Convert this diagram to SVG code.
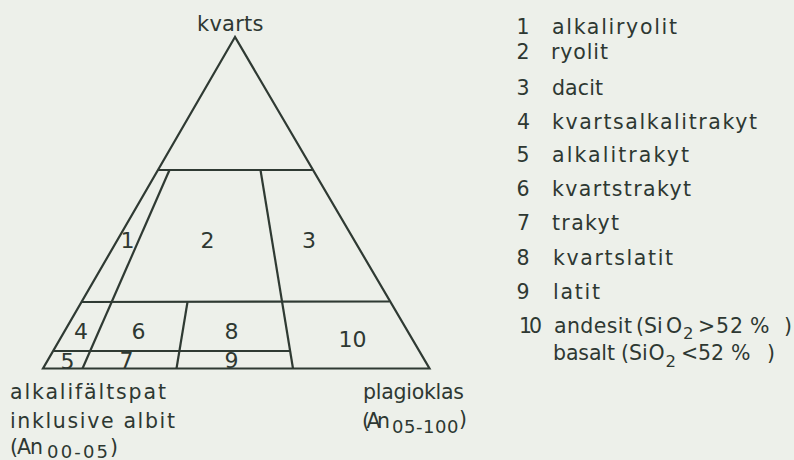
<svg xmlns="http://www.w3.org/2000/svg" width="794" height="460" viewBox="0 0 794 460">
<defs>
<style>
.t { font-family: "DejaVu Sans", "Liberation Sans", sans-serif; font-size: 20.5px; fill: #2e3832; }
.n { font-size: 22px; text-anchor: middle; }
.d { text-anchor: middle; }
.s { font-size: 18px; }
.ss { font-size: 16.5px; }
.ln { fill: none; stroke: #2f3a33; stroke-width: 2.2; stroke-linejoin: miter; stroke-linecap: butt; }
</style>
</defs>
<rect x="0" y="0" width="794" height="460" fill="#edf0ea"/>

<g id="triangle">
  <polygon class="ln" points="235,37 43,368.5 429.5,368.5"/>
</g>
<g id="connectors">
  <line class="ln" x1="158" y1="170" x2="313" y2="170"/>
  <line class="ln" x1="82" y1="302" x2="389.5" y2="301.5"/>
  <line class="ln" x1="54" y1="351" x2="290" y2="351"/>
  <line class="ln" x1="169.5" y1="170" x2="82.5" y2="368.5"/>
  <line class="ln" x1="260.5" y1="170" x2="293" y2="368.5"/>
  <line class="ln" x1="187.5" y1="302" x2="176.5" y2="368.5"/>
</g>

<g id="apex-label">
  <text class="t" x="197" y="31" style="font-size:21px" textLength="66.5" lengthAdjust="spacing">kvarts</text>
</g>

<g id="region-labels">
  <text class="t n" x="127.5" y="248">1</text>
  <text class="t n" x="207.5" y="248">2</text>
  <text class="t n" x="309" y="248">3</text>
  <text class="t n" x="81" y="339">4</text>
  <text class="t n" x="67.5" y="369">5</text>
  <text class="t n" x="138.5" y="339">6</text>
  <text class="t n" x="126.5" y="368">7</text>
  <text class="t n" x="231.5" y="338.5">8</text>
  <text class="t n" x="231.5" y="368">9</text>
  <text class="t n" x="352.5" y="346.5">10</text>
</g>

<g id="corner-left">
  <text class="t" x="10" y="398.5" textLength="156" lengthAdjust="spacing">alkalifältspat</text>
  <text class="t" x="10" y="427.5" textLength="165" lengthAdjust="spacing">inklusive albit</text>
  <text class="t" y="454"><tspan x="10" textLength="33" lengthAdjust="spacing">(An</tspan><tspan class="s" x="47" y="457.5" textLength="61" lengthAdjust="spacing">00-05</tspan><tspan x="110" y="454">)</tspan></text>
</g>

<g id="corner-right">
  <text class="t" x="363" y="398.5" textLength="101" lengthAdjust="spacing">plagioklas</text>
  <text class="t" y="427.5"><tspan x="362" textLength="28" lengthAdjust="spacing">(An</tspan><tspan class="s" x="392" y="432.5" textLength="66.5" lengthAdjust="spacing">05-100</tspan><tspan x="459" y="426">)</tspan></text>
</g>

<g id="legend">
  <text class="t d" x="523" y="34">1</text>
  <text class="t" x="552" y="34" textLength="125" lengthAdjust="spacing">alkaliryolit</text>
  <text class="t d" x="523" y="59">2</text>
  <text class="t" x="551" y="59" textLength="57" lengthAdjust="spacing">ryolit</text>
  <text class="t d" x="523" y="95">3</text>
  <text class="t" x="552" y="95" textLength="51" lengthAdjust="spacing">dacit</text>
  <text class="t d" x="523.5" y="129">4</text>
  <text class="t" x="552" y="129" textLength="205" lengthAdjust="spacing">kvartsalkalitrakyt</text>
  <text class="t d" x="523" y="162">5</text>
  <text class="t" x="552" y="162" textLength="137" lengthAdjust="spacing">alkalitrakyt</text>
  <text class="t d" x="523" y="195.5">6</text>
  <text class="t" x="552" y="195.5" textLength="139" lengthAdjust="spacing">kvartstrakyt</text>
  <text class="t d" x="523.5" y="230">7</text>
  <text class="t" x="552" y="230" textLength="67" lengthAdjust="spacing">trakyt</text>
  <text class="t d" x="523" y="265">8</text>
  <text class="t" x="553" y="265" textLength="120" lengthAdjust="spacing">kvartslatit</text>
  <text class="t d" x="523" y="298.5">9</text>
  <text class="t" x="553" y="298.5" textLength="47" lengthAdjust="spacing">latit</text>
  <text class="t" x="519" y="333" textLength="23" lengthAdjust="spacing">10</text>
  <text class="t" y="333"><tspan x="554" textLength="78" lengthAdjust="spacing">andesit</tspan><tspan x="636">(Si</tspan><tspan x="666">O</tspan><tspan class="ss" x="683" y="338.5">2</tspan><tspan x="698" y="333">&gt;</tspan><tspan x="716 730 750 784">52%)</tspan></text>
  <text class="t" y="359.5"><tspan x="553" textLength="62" lengthAdjust="spacing">basalt</tspan><tspan x="621">(Si</tspan><tspan x="648.5">O</tspan><tspan class="ss" x="665.5" y="366.5">2</tspan><tspan x="681" y="359.5">&lt;</tspan><tspan x="698 711 731 767">52%)</tspan></text>
</g>
</svg>
